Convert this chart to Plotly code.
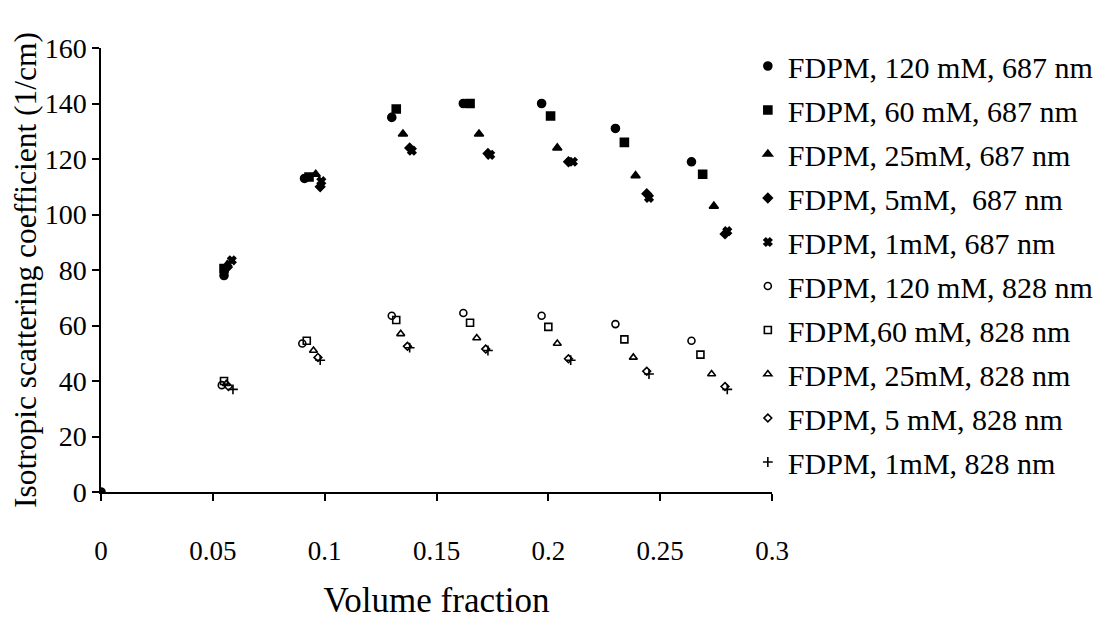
import plotly.graph_objects as go

# ---------------- data ----------------
names = [
    "FDPM, 120 mM, 687 nm",
    "FDPM, 60 mM, 687 nm",
    "FDPM, 25mM, 687 nm",
    "FDPM, 5mM,  687 nm",
    "FDPM, 1mM, 687 nm",
    "FDPM, 120 mM, 828 nm",
    "FDPM,60 mM, 828 nm",
    "FDPM, 25mM, 828 nm",
    "FDPM, 5 mM, 828 nm",
    "FDPM, 1mM, 828 nm",
]

# 687 nm
x_120_687 = [0.0, 0.055, 0.091, 0.130, 0.162, 0.197, 0.230, 0.264]
y_120_687 = [0.0, 78, 113, 135, 140, 140, 131, 119]
x_60_687 = [0.055, 0.093, 0.132, 0.165, 0.201, 0.234, 0.269]
y_60_687 = [80.5, 113.5, 138, 140, 135.5, 126, 114.5]
x_25_687 = [0.0565, 0.096, 0.135, 0.169, 0.204, 0.239, 0.274]
y_25_687 = [82, 114.5, 129, 129, 124, 114, 103]
x_5_687 = [0.0565, 0.098, 0.138, 0.173, 0.209, 0.244, 0.279]
y_5_687 = [81, 110, 124, 122, 119, 107.5, 93]
x_1_687 = [0.0585, 0.0985, 0.139, 0.174, 0.211, 0.245, 0.280]
y_1_687 = [83.5, 112, 123, 121.5, 119, 106, 94]

# 828 nm
x_120_828 = [0.054, 0.090, 0.130, 0.162, 0.197, 0.230, 0.264]
y_120_828 = [38.5, 53.5, 63.5, 64.5, 63.5, 60.5, 54.5]
x_60_828 = [0.055, 0.092, 0.132, 0.165, 0.200, 0.234, 0.268]
y_60_828 = [40, 54.5, 62, 61, 59.5, 55, 49.5]
x_25_828 = [0.056, 0.095, 0.134, 0.168, 0.204, 0.238, 0.273]
y_25_828 = [39, 51, 57, 55.5, 53.5, 48.5, 42.5]
x_5_828 = [0.057, 0.097, 0.137, 0.172, 0.209, 0.244, 0.279]
y_5_828 = [38, 48.5, 52.5, 51.5, 48, 43.5, 38]
x_1_828 = [0.059, 0.098, 0.138, 0.173, 0.210, 0.245, 0.280]
y_1_828 = [37, 47.5, 52, 51, 47.5, 42.5, 37]

x_ticks = [0, 0.05, 0.1, 0.15, 0.2, 0.25, 0.3]
x_tick_labels = ["0", "0.05", "0.1", "0.15", "0.2", "0.25", "0.3"]
y_ticks = [0, 20, 40, 60, 80, 100, 120, 140, 160]

xs = [x_120_687, x_60_687, x_25_687, x_5_687, x_1_687,
      x_120_828, x_60_828, x_25_828, x_5_828, x_1_828]
ys = [y_120_687, y_60_687, y_25_687, y_5_687, y_1_687,
      y_120_828, y_60_828, y_25_828, y_5_828, y_1_828]

symbols = ["circle", "square", "triangle-up", "diamond", "x",
           "circle-open", "square-open", "triangle-up-open", "diamond-open", "cross-thin-open"]
sizes = [8, 8, 8, 7, 7, 7, 7, 7, 6, 7]

FONT = "Liberation Serif, Times New Roman, serif"

fig = go.Figure()
for i in range(10):
    fig.add_trace(go.Scatter(
        x=xs[i], y=ys[i], mode="markers", name=names[i],
        legendgroup="g%d" % i,
        marker=dict(symbol=symbols[i], size=sizes[i], color="black",
                    line=dict(color="black", width=1.6)),
    ))

fig.update_layout(
    width=1102, height=633,
    margin=dict(l=93, r=338, t=40, b=149, autoexpand=False),
    paper_bgcolor="white", plot_bgcolor="white",
    font=dict(family=FONT, size=27, color="black"),
    showlegend=True,
    legend=dict(x=0.964, y=1.018, xanchor="left", yanchor="top",
                font=dict(family=FONT, size=30, color="black"),
                tracegroupgap=2, itemsizing="trace", maxheight=620,
                bgcolor="rgba(0,0,0,0)"),
    xaxis=dict(range=[0, 0.3], tickvals=x_ticks, ticktext=x_tick_labels,
               showgrid=False, zeroline=False, showline=True, linecolor="black",
               linewidth=1.5, ticks="outside", ticklen=7, tickwidth=1.5, tickcolor="black",
               tickfont=dict(family=FONT, size=27), ticklabelstandoff=27,
               title=dict(text="Volume fraction", font=dict(family=FONT, size=35), standoff=22)),
    yaxis=dict(range=[0, 160], tickvals=y_ticks,
               showgrid=False, zeroline=False, showline=True, linecolor="black",
               linewidth=1.5, ticks="outside", ticklen=7, tickwidth=1.5, tickcolor="black",
               tickfont=dict(family=FONT, size=28), ticklabelstandoff=0,
               title=dict(text="Isotropic scattering coefficient (1/cm)",
                          font=dict(family=FONT, size=31.5), standoff=0)),
)

fig.write_html("out.html")
